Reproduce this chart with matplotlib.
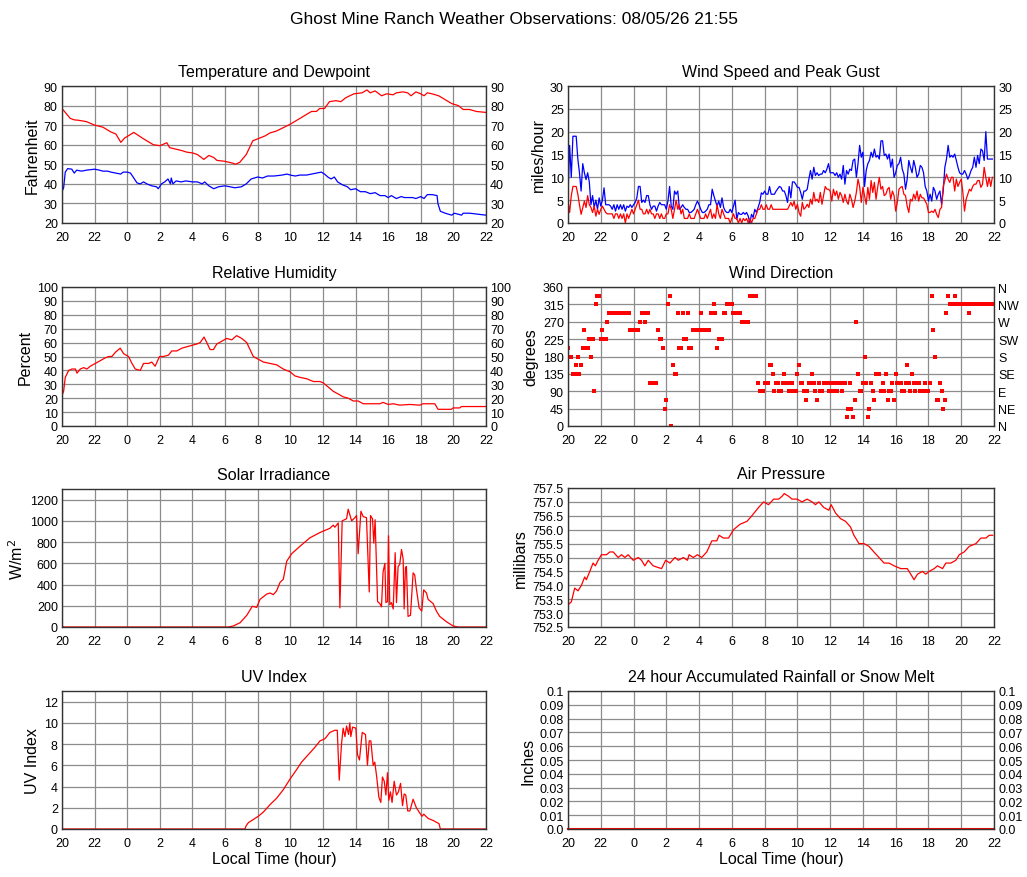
import numpy as np
import matplotlib
matplotlib.use("Agg")
from matplotlib import pyplot as plt

plt.rcParams['font.family'] = ['Liberation Sans', 'DejaVu Sans']

# hours since 20:00 the day before; tick labels are clock hours
hour_ticks = list(range(0, 27, 2))
hour_labels = ['20', '22', '0', '2', '4', '6', '8', '10', '12', '14', '16', '18', '20', '22']

# Temperature and dewpoint (F)
temp_t = [0, 0.25, 0.5, 0.75, 1, 1.5, 2, 2.5, 3, 3.3,
          3.61, 3.85, 4, 4.4, 5, 5.6, 6, 6.43, 6.6, 7.35,
          7.65, 8, 8.3, 8.7, 9, 9.3, 9.5, 10, 10.5, 10.63,
          10.9, 11.3, 11.7, 12, 12.45, 12.75, 13.15, 14, 14.6, 15.3,
          15.6, 15.8, 16.1, 16.4, 16.8, 17.1, 17.4, 17.9, 18.4, 18.7,
          18.9, 19.2, 19.6, 19.9, 20.3, 20.5, 20.9, 21.2, 21.4, 21.7,
          22, 22.2, 22.4, 22.7, 23.1, 23.5, 23.9, 24.3, 24.6, 25,
          25.4, 26]
temp_v = [78.5, 76, 73.5, 72.7, 72.5, 71.8, 70, 69, 66.5, 65.5,
          61.2, 63.5, 64.2, 66.3, 63, 60, 59.5, 61, 58.5, 57,
          56.2, 55.8, 55, 52.5, 54.5, 53.5, 52, 51.5, 50.5, 50,
          51, 55, 62, 63, 64.5, 66, 67, 70.5, 73.5, 77,
          77, 78.5, 78.5, 82, 82.5, 82, 84, 86, 86.5, 88,
          86.5, 87.5, 85, 86, 85.5, 86.5, 87, 86.5, 85, 87,
          86, 85, 86.5, 86, 85, 83, 81, 80, 78, 78,
          77, 76.5]
dew_t = [0, 0.1, 0.2, 0.35, 0.6, 0.75, 0.9, 1.2, 1.5, 2,
         2.3, 2.5, 2.8, 3, 3.3, 3.6, 3.75, 4, 4.2, 4.4,
         4.6, 4.8, 5, 5.2, 5.5, 5.8, 5.9, 6.1, 6.3, 6.5,
         6.65, 6.7, 6.8, 7, 7.3, 7.6, 8, 8.3, 8.6, 8.75,
         9, 9.3, 9.6, 10, 10.3, 10.6, 11, 11.3, 11.6, 12,
         12.3, 12.6, 13, 13.5, 13.8, 14, 14.3, 14.6, 15, 15.3,
         15.6, 15.9, 16.1, 16.3, 16.5, 16.7, 16.9, 17.2, 17.5, 17.7,
         18, 18.3, 18.6, 18.9, 19.2, 19.5, 19.8, 20, 20.2, 20.5,
         20.8, 21, 21.5, 21.7, 22, 22.2, 22.4, 22.7, 23, 23.05,
         23.2, 23.5, 23.9, 24.05, 24.3, 24.5, 24.6, 25, 25.5, 26]
dew_v = [36, 38, 46, 47.8, 47.5, 45.5, 47, 46.5, 47, 47.5,
         47, 46.5, 46.5, 46, 45.5, 45, 46, 46, 45.5, 43,
         40.5, 40, 41, 40, 39, 38.5, 37.5, 40, 41, 42.5,
         40, 43, 40, 41.5, 41, 41.5, 41, 41, 40, 41,
         39, 37.5, 38.5, 39, 38.5, 38, 38.5, 40, 42.5, 43.5,
         43, 44, 44, 44.5, 45, 44.5, 44, 44.5, 44.5, 45,
         45.5, 46, 45, 43.5, 42.5, 43.5, 41, 39.5, 38.5, 37,
         37.5, 36, 36, 35, 35.5, 34, 34, 33, 34, 32.5,
         33.5, 33, 33, 32.5, 33.5, 32.5, 34.5, 34.5, 34, 30,
         26, 25, 24, 25, 24.5, 24, 25, 25, 24.5, 24]

# Wind speed and peak gust (mph), one reading every 6 minutes
gust_v = [6, 17, 10, 19, 19, 19, 14, 11, 7, 13,
          11, 9.5, 11, 9, 4, 6, 3.4, 5, 3, 5.5,
          3.7, 5, 7.7, 4, 4, 4, 3.7, 3, 4, 2.6,
          4, 3, 4, 3, 4, 2.6, 3.7, 3.4, 4, 3.4,
          4, 4.5, 5.5, 8, 8, 4.5, 5, 4.5, 6, 6,
          4, 3, 3.7, 3.7, 2.6, 3.7, 4.5, 4, 4, 4,
          3, 4.8, 8, 3.7, 3, 7, 6.3, 7, 3, 3.4,
          4, 3.4, 3, 3, 2.3, 2.3, 2.6, 3, 4, 4.8,
          4, 3, 2.3, 2.3, 2.6, 3, 4, 4, 7.4, 6,
          4.8, 3.7, 4.8, 3.4, 5.5, 3.4, 2.6, 2.3, 2.3, 3,
          2.3, 3.7, 5, 0.8, 2.3, 1.9, 1.9, 2.3, 1.9, 2.3,
          1.5, 0, 1.9, 1.2, 3, 2.3, 3.4, 4.5, 6.6, 6.3,
          7, 6.3, 6.3, 8, 6.3, 6.3, 6.3, 7, 7.5, 8,
          7.8, 7, 7, 6, 4.5, 8, 5.5, 9, 9, 8.5,
          7.8, 7.8, 6.7, 5.2, 7, 7, 7.4, 9.6, 11.5, 9.6,
          12.2, 10.4, 11, 10.4, 10.7, 10.7, 11.5, 11, 11.8, 13,
          11, 11, 11, 10.4, 11, 10, 10.7, 9.6, 12.6, 8.5,
          11.5, 10.7, 11.8, 11.5, 13.7, 14, 10, 13, 17, 14.4,
          15.5, 8, 11.5, 13, 13.7, 15.5, 14.4, 16.2, 14.4, 14.8,
          14, 18, 18, 14.8, 15.1, 14, 15.1, 12.2, 14, 10,
          11, 12.6, 13, 14.4, 11.8, 10.7, 7.4, 9.6, 13.7, 12.2,
          11, 13.7, 12.2, 10, 10.7, 12.6, 12.2, 11, 8, 7,
          4.8, 6.3, 4.8, 7.8, 7, 5.2, 6.3, 7, 4.1, 7,
          12.2, 14, 17, 14.4, 14.8, 14.4, 15.1, 13.7, 12.2, 11,
          10.7, 10.7, 11.5, 10.7, 9.6, 10.4, 11.5, 12.2, 14.4, 12.2,
          14.8, 13, 16.2, 15.8, 13.7, 20, 14, 14, 14, 14]
speed_v = [4.8, 2.3, 6, 8, 8, 8, 6.3, 4, 1.9, 3.4,
           4.8, 3.4, 6, 4, 3.4, 2.3, 3.7, 1.5, 3, 1.9,
           3, 3.7, 3, 2.3, 2, 2, 2, 2, 1, 2,
           2, 1, 2, 1, 2, 0, 2, 1, 2, 3,
           2, 3, 4, 5, 3, 3, 2, 2, 3, 2,
           3, 2, 2, 1, 2, 2, 1, 2, 1, 1,
           2, 2, 4, 3, 1, 3, 5, 3, 4, 2,
           3, 1, 1, 1, 2, 1, 1, 1, 2, 3,
           2, 1, 1, 1, 2, 1, 2, 3, 1, 2,
           1, 4, 2, 1, 3, 2, 1, 1, 1, 0,
           1, 2, 1, 1, 0, 1, 0, 1, 0.5, 1,
           0, 1, 0, 1, 1, 2, 3, 3, 4, 3,
           3, 4, 3, 3, 4, 3, 3, 3, 3, 3,
           3, 3, 3, 3, 3, 3.7, 4.5, 3.7, 4.8, 3,
           4.1, 2.3, 1.5, 4.5, 3, 3.4, 4.1, 3.4, 5.2, 4.1,
           6.7, 4.8, 5.2, 4.5, 6.7, 4.1, 6, 8, 7.4, 7.4,
           7, 4.8, 7.4, 6, 7, 5.2, 6.7, 6, 4.5, 6.3,
           4.8, 4.1, 6.3, 5.2, 3.4, 4.8, 6.7, 9.6, 8, 4.5,
           7.8, 6, 4.1, 7.8, 5.2, 9.3, 6.7, 8.9, 5.2, 7.8,
           10, 7.4, 8, 6, 6.3, 7.4, 7.8, 5.2, 7, 6,
           2.6, 4.5, 7.4, 7.8, 8, 6.3, 6, 3.7, 2.3, 5.2,
           4.8, 6.3, 5.2, 7, 4.8, 6.3, 5.5, 5.5, 4.8, 4.1,
           2.3, 2.3, 2.6, 2.3, 3, 1.9, 1.2, 3, 3.4, 8,
           9.3, 10.7, 9.6, 8.9, 10, 10, 7, 9.6, 8, 8.9,
           9.6, 6.7, 2.6, 5.2, 6.3, 7.4, 7, 8, 8.5, 8.5,
           9.3, 9.3, 7.8, 8.5, 12.2, 10, 8, 10, 8, 10]

# Wind direction (degrees), one reading every 6 minutes
wdir_v = [202.5, 180, 180, 135, 135, 157.5, 180, 135, 157.5, 202.5,
          247.5, 202.5, 202.5, 225, 180, 225, 90, 315, 337.5, 337.5,
          225, 247.5, 225, 225, 270, 292.5, 292.5, 292.5, 292.5, 292.5,
          292.5, 292.5, 292.5, 292.5, 292.5, 292.5, 292.5, 292.5, 247.5, 247.5,
          247.5, 247.5, 247.5, 247.5, 270, 292.5, 292.5, 270, 292.5, 292.5,
          112.5, 112.5, 112.5, 112.5, 112.5, 247.5, 225, 225, 202.5, 45,
          67.5, 315, 337.5, 0, 157.5, 135, 135, 292.5, 202.5, 202.5,
          292.5, 225, 225, 292.5, 202.5, 202.5, 247.5, 247.5, 247.5, 247.5,
          247.5, 292.5, 247.5, 247.5, 247.5, 247.5, 247.5, 292.5, 292.5, 315,
          292.5, 202.5, 225, 225, 225, 292.5, 292.5, 315, 315, 315,
          315, 292.5, 292.5, 292.5, 292.5, 292.5, 270, 270, 270, 270,
          270, 337.5, 337.5, 337.5, 337.5, 337.5, 112.5, 90, 90, 90,
          112.5, 112.5, 112.5, 157.5, 157.5, 135, 90, 112.5, 112.5, 90,
          90, 112.5, 135, 112.5, 112.5, 90, 90, 112.5, 90, 90,
          135, 157.5, 112.5, 112.5, 90, 67.5, 90, 112.5, 112.5, 135,
          112.5, 90, 67.5, 112.5, 90, 90, 112.5, 112.5, 112.5, 90,
          112.5, 112.5, 90, 112.5, 90, 112.5, 112.5, 90, 112.5, 112.5,
          22.5, 45, 112.5, 45, 22.5, 67.5, 270, 135, 90, 90,
          112.5, 180, 112.5, 22.5, 45, 112.5, 90, 67.5, 135, 135,
          135, 90, 112.5, 90, 135, 67.5, 90, 90, 112.5, 67.5,
          135, 112.5, 112.5, 112.5, 90, 90, 112.5, 157.5, 112.5, 90,
          135, 112.5, 90, 112.5, 112.5, 90, 90, 90, 112.5, 90,
          90, 112.5, 337.5, 247.5, 180, 67.5, 67.5, 112.5, 90, 45,
          67.5, 292.5, 337.5, 315, 315, 315, 337.5, 315, 315, 315,
          315, 315, 315, 315, 315, 292.5, 315, 315, 315, 315,
          315, 315, 315, 315, 315, 315, 315, 315, 315, 315]
compass = ['N', 'NE', 'E', 'SE', 'S', 'SW', 'W', 'NW', 'N']

# Relative humidity (%)
rh_t = [0, 0.1, 0.2, 0.41, 0.61, 0.82, 0.92, 1.12, 1.33, 1.53,
        1.73, 2.04, 2.35, 2.65, 2.86, 3.06, 3.27, 3.57, 3.78, 4.08,
        4.29, 4.49, 4.8, 5.0, 5.31, 5.51, 5.71, 5.98, 6.22, 6.53,
        6.73, 7.04, 7.35, 7.65, 7.96, 8.27, 8.47, 8.71, 8.88, 9.08,
        9.29, 9.49, 9.8, 10.1, 10.41, 10.71, 11.02, 11.33, 11.73, 12.04,
        12.35, 12.76, 13.16, 13.57, 13.98, 14.29, 14.59, 15.0, 15.41, 15.82,
        16.02, 16.33, 16.63, 16.94, 17.24, 17.55, 17.86, 18.16, 18.47, 18.88,
        19.49, 19.69, 20.0, 20.31, 20.71, 21.33, 21.94, 22.14, 22.86, 23.06,
        23.88, 23.98, 24.39, 24.49, 26]
rh_v = [22, 25, 35, 40, 41, 41, 38, 41, 42, 41,
        43, 45, 47, 49, 50, 50, 53, 56, 52, 50,
        45, 41, 40, 45, 45, 46, 43, 50, 50, 51,
        54, 54, 56, 57, 58, 59, 60, 64, 60, 55,
        55, 59, 61, 63, 62, 65, 63, 60, 50, 48,
        46, 45, 44, 41, 39, 36, 35, 34, 32, 32,
        31, 28, 25, 23, 21, 20, 18, 18, 16, 16,
        16, 17, 15.5, 16, 15, 15.5, 15, 16, 16, 12,
        12, 13, 13, 14, 14]

# Solar irradiance (W/m2)
sol_t = [0, 0.1, 10.2, 10.51, 10.92, 11.33, 11.67, 11.94, 12.14, 12.55,
         12.76, 12.96, 13.16, 13.37, 13.57, 13.78, 14.08, 14.59, 15.2, 15.82,
         16.43, 16.63, 16.73, 16.94, 17.04, 17.18, 17.45, 17.55, 17.76, 17.96,
         18.06, 18.16, 18.33, 18.47, 18.67, 18.84, 18.92, 19.04, 19.12, 19.2,
         19.35, 19.49, 19.59, 19.69, 19.8, 19.86, 19.96, 20.02, 20.1, 20.2,
         20.31, 20.43, 20.51, 20.61, 20.71, 20.82, 20.92, 20.98, 21.06, 21.12,
         21.22, 21.37, 21.53, 21.63, 21.73, 21.9, 22.06, 22.18, 22.35, 22.45,
         22.76, 22.96, 23.16, 23.57, 23.98, 24.29, 26]
sol_v = [10, 0, 0, 10, 40, 110, 195, 185, 260, 310,
         320, 305, 340, 420, 450, 620, 690, 760, 840, 890,
         930, 960, 940, 980, 180, 1000, 1020, 1110, 1000, 1030,
         1050, 690, 1090, 1040, 1030, 330, 1050, 1020, 790, 1010,
         240, 220, 190, 520, 600, 230, 240, 860, 210, 230,
         170, 700, 230, 570, 590, 730, 640, 170, 560, 570,
         100, 110, 510, 490, 360, 180, 150, 350, 320, 260,
         220, 150, 100, 50, 10, 0, 0]

# Air pressure (mbar)
pres_t = [0, 0.2, 0.41, 0.61, 0.82, 1.02, 1.12, 1.33, 1.53, 1.67,
          1.84, 2.04, 2.35, 2.55, 2.76, 3.06, 3.27, 3.47, 3.67, 3.98,
          4.29, 4.49, 4.69, 4.9, 5.2, 5.71, 5.96, 6.22, 6.53, 6.73,
          7.04, 7.29, 7.39, 7.65, 7.9, 8.16, 8.47, 8.78, 9.08, 9.22,
          9.49, 9.8, 10.1, 10.51, 10.92, 11.22, 11.63, 11.94, 12.24, 12.55,
          12.86, 13.06, 13.2, 13.47, 13.67, 13.98, 14.29, 14.59, 14.9, 15.1,
          15.31, 15.61, 15.92, 16.06, 16.33, 16.63, 16.94, 17.24, 17.45, 17.76,
          18.06, 18.37, 18.67, 18.98, 19.29, 19.59, 19.9, 20.31, 20.71, 20.92,
          21.12, 21.33, 21.63, 21.84, 22.04, 22.35, 22.55, 22.86, 23.06, 23.37,
          23.67, 23.88, 24.18, 24.49, 24.9, 25.2, 25.51, 25.71, 25.92]
pres_v = [753.3, 753.4, 753.9, 753.8, 754.0, 754.3, 754.2, 754.5, 754.8, 754.7,
          754.9, 755.1, 755.1, 755.2, 755.2, 755.0, 755.1, 755.0, 755.1, 754.9,
          755.0, 754.9, 754.7, 754.9, 754.7, 754.6, 754.9, 754.8, 755.0, 754.9,
          755.0, 754.9, 755.1, 755.0, 755.1, 755.0, 755.2, 755.6, 755.6, 755.8,
          755.7, 755.7, 756.0, 756.2, 756.3, 756.5, 756.8, 757.0, 756.9, 757.1,
          757.1, 757.2, 757.3, 757.2, 757.1, 757.1, 757.0, 757.1, 757.0, 756.9,
          757.0, 756.8, 756.7, 756.9, 756.6, 756.4, 756.3, 756.1, 755.8, 755.5,
          755.5, 755.4, 755.2, 755.0, 754.8, 754.8, 754.7, 754.6, 754.6, 754.4,
          754.2, 754.4, 754.5, 754.4, 754.5, 754.6, 754.7, 754.6, 754.8, 754.8,
          754.9, 755.1, 755.2, 755.4, 755.5, 755.7, 755.7, 755.8, 755.8]

# UV index
uv_t = [0, 11.22, 11.29, 11.43, 12.04, 12.35, 12.76, 13.16, 13.57, 13.98,
        14.39, 14.69, 15.1, 15.51, 15.82, 16.12, 16.43, 16.73, 16.88, 17.0,
        17.14, 17.24, 17.35, 17.45, 17.57, 17.65, 17.71, 17.82, 18.02, 18.12,
        18.24, 18.41, 18.61, 18.73, 18.84, 18.94, 19.08, 19.18, 19.29, 19.43,
        19.55, 19.65, 19.76, 19.86, 19.96, 20.04, 20.14, 20.24, 20.37, 20.51,
        20.63, 20.76, 20.88, 20.98, 21.08, 21.2, 21.33, 21.53, 21.73, 21.94,
        22.08, 22.18, 22.45, 22.76, 23.12, 23.2, 26]
uv_v = [0, 0, 0.3, 0.6, 1.2, 1.6, 2.3, 2.9, 3.7, 4.7,
        5.6, 6.3, 7, 7.7, 8.3, 8.5, 9.1, 9.3, 9.3, 4.6,
        8, 9.5, 8.7, 9.7, 8.9, 10, 8.7, 9.6, 9.5, 7,
        6.5, 9.1, 8.9, 6, 8.3, 8.3, 6, 6.3, 5, 3,
        2.5, 4.9, 4.5, 3.2, 5.3, 2.7, 3.5, 2.5, 4.5, 3.2,
        3.5, 4.3, 2.2, 3.3, 3.2, 1.7, 1.7, 2.8, 2, 1.5,
        1.2, 1.4, 1, 0.8, 0.5, 0, 0]

# 24 hour accumulated rain (inches)
rain_t = [0, 26]
rain_v = [0.0, 0.0]

wind_t = np.arange(len(gust_v)) * 0.1
wdir_t = np.arange(len(wdir_v)) * 0.1

RED = '#ff0000'
BLUE = '#0000ff'
W, H = 1027, 878
fig = plt.figure(figsize=(W / 100, H / 100), dpi=100)
fig.text(0.5, 1 - 20 / H, 'Ghost Mine Ranch Weather Observations: 08/05/26 21:55',
         ha='center', va='center', fontsize=12.5)


def panel(left, top, right, bottom, title, ylabel, ylim, yticks, ylabels=None,
          rightside=True, xlabel=False):
    ax = fig.add_axes([left / W, 1 - bottom / H, (right - left) / W, (bottom - top) / H])
    ax.set_xlim(0, 26)
    ax.set_ylim(*ylim)
    ax.set_xticks(hour_ticks)
    ax.set_xticklabels(hour_labels)
    ax.set_yticks(yticks)
    if ylabels is not None:
        ax.set_yticklabels(ylabels)
    ax.grid(True, color='#8c8c8c', lw=0.9)
    ax.set_axisbelow(True)
    for s in ax.spines.values():
        s.set_color('#333333')
        s.set_linewidth(1.0)
    ax.tick_params(length=0, labelsize=9)
    ax.tick_params(axis='x', pad=6)
    ax.tick_params(axis='y', pad=3)
    if rightside:
        ax.tick_params(labelright=True)
    ax.set_title(title, fontsize=11.5, pad=7)
    ax.set_ylabel(ylabel, fontsize=11.5, labelpad=3)
    if xlabel:
        ax.set_xlabel('Local Time (hour)', fontsize=11.5, labelpad=1)
    return ax


LX0, LX1, RX0, RX1 = 62, 486, 568, 994

ax = panel(LX0, 87, LX1, 224, 'Temperature and Dewpoint', 'Fahrenheit', (20, 90), range(20, 91, 10))
ax.plot(temp_t, temp_v, color=RED, lw=0.9)
ax.plot(dew_t, dew_v, color=BLUE, lw=0.9)

ax = panel(RX0, 87, RX1, 224, 'Wind Speed and Peak Gust', 'miles/hour', (0, 30), range(0, 31, 5))
ax.plot(wind_t, gust_v, color=BLUE, lw=0.9)
ax.plot(wind_t, speed_v, color=RED, lw=0.9)

ax = panel(LX0, 288, LX1, 427, 'Relative Humidity', 'Percent', (0, 100), range(0, 101, 10))
ax.plot(rh_t, rh_v, color=RED, lw=0.9)

ax = panel(RX0, 288, RX1, 427, 'Wind Direction', 'degrees', (0, 360), range(0, 361, 45), rightside=False)
ax.plot(wdir_t, wdir_v, ls='none', marker='s', ms=2.9, mew=0, color=RED)
ax2 = ax.twinx()
ax2.set_ylim(0, 360)
ax2.set_yticks(range(0, 361, 45))
ax2.set_yticklabels(compass)
ax2.tick_params(length=0, labelsize=9, pad=3)
for s in ax2.spines.values():
    s.set_visible(False)

ax = panel(LX0, 490, LX1, 628, 'Solar Irradiance', 'W/m$^2$', (0, 1300), range(0, 1201, 200), rightside=False)
ax.plot(sol_t, sol_v, color=RED, lw=0.9)

pticks = np.arange(752.5, 757.6, 0.5)
ax = panel(RX0, 489, RX1, 628, 'Air Pressure', 'millibars', (752.5, 757.5), pticks,
           ylabels=['%.1f' % p for p in pticks], rightside=False)
ax.plot(pres_t, pres_v, color=RED, lw=0.9)

ax = panel(LX0, 692, LX1, 830, 'UV Index', 'UV Index', (0, 13), range(0, 13, 2), rightside=False, xlabel=True)
ax.plot(uv_t, uv_v, color=RED, lw=0.9)

rticks = np.arange(0, 0.101, 0.01)
rlabels = ['0.0'] + ['%.2f' % r for r in rticks[1:-1]] + ['0.1']
ax = panel(RX0, 692, RX1, 830, '24 hour Accumulated Rainfall or Snow Melt', 'Inches', (0, 0.1), rticks,
           ylabels=rlabels, xlabel=True)
ax.plot(rain_t, rain_v, color=RED, lw=1.5, clip_on=False)

fig.savefig('out.png', dpi=100)
